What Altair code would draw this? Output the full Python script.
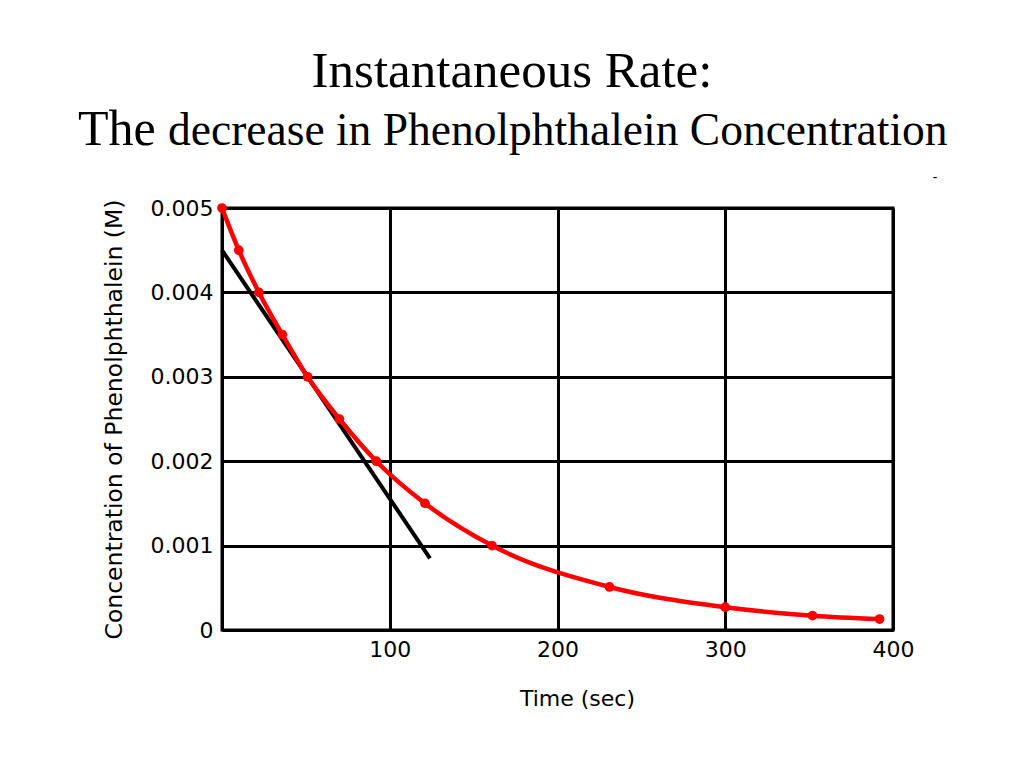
import altair as alt
import pandas as pd

# Data
time_s = [0, 10, 22, 36, 51, 70, 92, 121, 161, 231, 300, 352, 392]
conc_m = [0.0050, 0.0045, 0.0040, 0.0035, 0.0030, 0.0025, 0.0020, 0.0015,
          0.0010, 0.00051, 0.00027, 0.00017, 0.00013]
tangent_t = [0, 124]
tangent_c = [0.0045, 0.00085]
x_ticks = [0, 100, 200, 300, 400]
y_ticks = [0, 0.001, 0.002, 0.003, 0.004, 0.005]

title1 = "Instantaneous Rate:"
title2a = "The"
title2b = "decrease in Phenolphthalein Concentration"

curve = pd.DataFrame({"t": time_s, "c": conc_m})
tangent = pd.DataFrame({"t": tangent_t, "c": tangent_c})

xenc = alt.X("t:Q", scale=alt.Scale(domain=[0, 400], nice=False, zero=False),
             axis=alt.Axis(values=x_ticks, title="Time (sec)", grid=True,
                           gridColor="black", gridWidth=3, gridOpacity=1,
                           domainColor="black", domainWidth=3, ticks=False,
                           labelFlush=False, labelPadding=9,
                           labelExpr="datum.value == 0 ? '' : datum.label",
                           labelFont="DejaVu Sans", labelFontSize=22, labelColor="black",
                           titleFont="DejaVu Sans", titleFontSize=22, titleFontWeight="normal",
                           titleColor="black", titleX=355, titleY=58, titleBaseline="top"))
yenc = alt.Y("c:Q", scale=alt.Scale(domain=[0, 0.005], nice=False),
             axis=alt.Axis(values=y_ticks, format=".3~f",
                           title="Concentration of Phenolphthalein (M)", grid=True,
                           gridColor="black", gridWidth=3, gridOpacity=1,
                           domainColor="black", domainWidth=3, ticks=False,
                           labelFlush=False, labelPadding=9,
                           labelFont="DejaVu Sans", labelFontSize=22, labelColor="black",
                           titleFont="DejaVu Sans", titleFontSize=23.5, titleFontWeight="normal",
                           titleColor="black", titlePadding=24))

tan_line = alt.Chart(tangent).mark_line(color="black", strokeWidth=4).encode(x=xenc, y=yenc)
red_line = alt.Chart(curve).mark_line(color="#ff0000", strokeWidth=4.5,
                                      interpolate="monotone").encode(x=xenc, y=yenc)
red_pts = alt.Chart(curve).mark_circle(color="#ff0000", size=95, opacity=1).encode(x=xenc, y=yenc)

t1 = alt.Chart(pd.DataFrame({"s": [title1]})).mark_text(
    font="Liberation Serif", fontSize=51, color="black", align="center", baseline="alphabetic"
).encode(text="s:N", x=alt.value(290), y=alt.value(-121))
t2a = alt.Chart(pd.DataFrame({"s": [title2a]})).mark_text(
    font="Liberation Serif", fontSize=50, color="black", align="left", baseline="alphabetic"
).encode(text="s:N", x=alt.value(-144), y=alt.value(-63))
t2b = alt.Chart(pd.DataFrame({"s": [title2b]})).mark_text(
    font="Liberation Serif", fontSize=45.5, color="black", align="left", baseline="alphabetic"
).encode(text="s:N", x=alt.value(-54), y=alt.value(-63))
dash = alt.Chart(pd.DataFrame({"s": ["-"]})).mark_text(
    font="Liberation Sans", fontSize=14, color="black", align="center", baseline="middle"
).encode(text="s:N", x=alt.value(713), y=alt.value(-30))

chart = alt.layer(tan_line, red_line, red_pts, t1, t2a, t2b, dash).properties(
    width=671, height=422,
    autosize=alt.AutoSizeParams(type="none"),
    padding={"left": 214, "top": 200, "right": 100, "bottom": 100},
    background="white",
).configure_view(stroke="black", strokeWidth=3)

chart.save("out.html", embed_options={"renderer": "svg", "actions": False})
